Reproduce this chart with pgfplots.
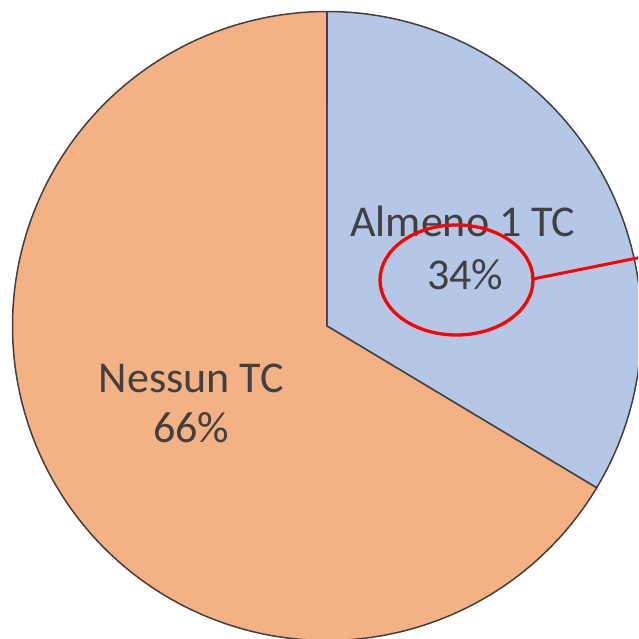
\documentclass[border=0pt]{standalone}
\usepackage{pgfplots}
\pgfplotsset{compat=1.18}
\usepackage{fontspec}
\setmainfont{Carlito}
\definecolor{sliceblue}{HTML}{B4C7E7}
\definecolor{sliceorange}{HTML}{F4B183}
\definecolor{txt}{HTML}{404040}
\definecolor{hlred}{HTML}{FF0000}
\begin{document}
\begin{tikzpicture}
% shares in percent (labels rounded)
\pgfmathsetmacro{\pa}{33.6}
\pgfmathsetmacro{\pb}{66.4}
\pgfmathsetmacro{\aend}{90-3.6*\pa}
\pgfmathsetmacro{\bstart}{\aend-3.6*\pb}
\begin{axis}[
    scale only axis,
    width=638pt, height=639pt,
    xmin=-1.0397, xmax=0.9889,
    ymin=-0.9952, ymax=1.0366,
    hide axis,
    clip=true,
]
    % Almeno 1 TC
    \addplot[fill=sliceblue, draw=txt, line width=1.5pt, domain=\aend:90, samples=150, variable=\t]
        ({cos(t)},{sin(t)}) -- (axis cs:0,0) -- cycle;
    % Nessun TC
    \addplot[fill=sliceorange, draw=txt, line width=1.5pt, domain=\bstart:\aend, samples=250, variable=\t]
        ({cos(t)},{sin(t)}) -- (axis cs:0,0) -- cycle;

    \begin{scope}[every node/.style={text=txt, font=\fontsize{44}{52}\selectfont, anchor=base, inner sep=0pt}]
        \node at (axis cs:0.432,0.283) {Almeno 1 TC};
        \node at (axis cs:0.439,0.1145) {34\%};
        \node at (axis cs:-0.432,-0.213) {Nessun TC};
        \node at (axis cs:-0.432,-0.372) {66\%};
    \end{scope}

    % highlight
    \draw[hlred, line width=3.3pt] (axis cs:0.4118,0.1463) ellipse [x radius=76.5pt, y radius=55pt];
    \draw[hlred, line width=3pt] (axis cs:0.655,0.1494) -- (axis cs:1.03,0.225);
\end{axis}
\pgfresetboundingbox
\useasboundingbox (current axis.south west) rectangle (current axis.north east);
\end{tikzpicture}
\end{document}
